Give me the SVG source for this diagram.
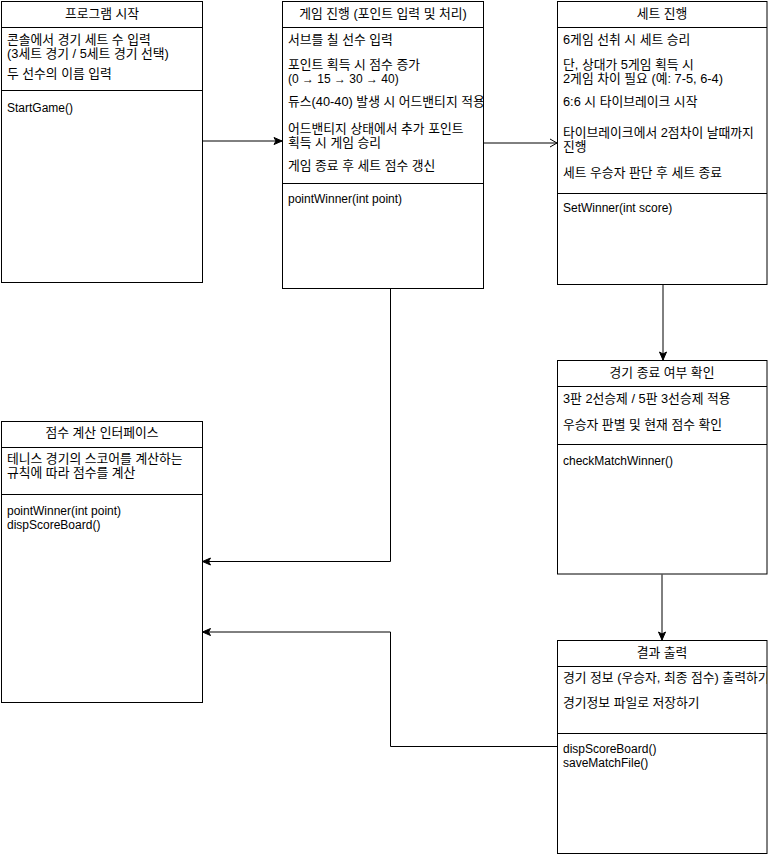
<svg xmlns="http://www.w3.org/2000/svg" width="768" height="855" viewBox="0 0 768 855">
<defs>
<style>
.box{fill:#fff;stroke:#000;stroke-width:1}
.ln{stroke:#000;stroke-width:1}
text{font-family:"Liberation Sans","Noto Sans CJK KR",sans-serif;font-size:12px;fill:#000}
.k{font-size:12.8px}
.h{text-anchor:middle}
.c{fill:none;stroke:#000;stroke-width:1}
</style>
<marker id="af" markerWidth="10" markerHeight="10" refX="9" refY="5" orient="auto" markerUnits="userSpaceOnUse">
<path d="M1,1.5 L9,5 L1,8.5 L3,5 Z" fill="#000" stroke="#000"/>
</marker>
<marker id="ao" markerWidth="10" markerHeight="10" refX="9" refY="5" orient="auto" markerUnits="userSpaceOnUse">
<path d="M2,1 L9,5 L2,9" fill="none" stroke="#000"/>
</marker>
<clipPath id="cp2"><rect x="282" y="0" width="201" height="290"/></clipPath>
<clipPath id="cp6"><rect x="557" y="640" width="210" height="215"/></clipPath>
</defs>
<rect width="768" height="855" fill="#fff"/>
<g id="connectors">
<path class="c" d="M202.5,141 L282,141" marker-end="url(#af)"/>
<path class="c" d="M483.5,143 L557,143" marker-end="url(#ao)"/>
<path class="c" d="M663,284.5 L663,360" marker-end="url(#af)"/>
<path class="c" d="M662,574.5 L662,640" marker-end="url(#af)"/>
<path class="c" d="M390.5,288.5 L390.5,561.5 L202.5,561.5" marker-end="url(#af)"/>
<path class="c" d="M557.5,746.5 L390.5,746.5 L390.5,632 L202.5,632" marker-end="url(#af)"/>
</g>
<g id="node1">
<rect class="box" x="1.5" y="1.5" width="201" height="281"/>
<line class="ln" x1="1.5" y1="27.5" x2="202.5" y2="27.5"/>
<line class="ln" x1="1.5" y1="90.5" x2="202.5" y2="90.5"/>
<text class="h k" x="102" y="18">프로그램 시작</text>
<text class="k" x="7" y="44">콘솔에서 경기 세트 수 입력</text>
<text class="k" x="7" y="58">(3세트 경기 / 5세트 경기 선택)</text>
<text class="k" x="7" y="78">두 선수의 이름 입력</text>
<text x="7" y="112">StartGame()</text>
</g>
<g id="node2">
<rect class="box" x="282.5" y="1.5" width="201" height="287"/>
<line class="ln" x1="282.5" y1="27.5" x2="483.5" y2="27.5"/>
<line class="ln" x1="282.5" y1="183.5" x2="483.5" y2="183.5"/>
<text class="h k" x="383" y="18">게임 진행 (포인트 입력 및 처리)</text>
<g clip-path="url(#cp2)">
<text class="k" x="288" y="44">서브를 칠 선수 입력</text>
<text class="k" x="288" y="69">포인트 획득 시 점수 증가</text>
<text x="288" y="83">(0 → 15 → 30 → 40)</text>
<text class="k" x="288" y="106">듀스(40-40) 발생 시 어드밴티지 적용</text>
<text class="k" x="288" y="133">어드밴티지 상태에서 추가 포인트</text>
<text class="k" x="288" y="147">획득 시 게임 승리</text>
<text class="k" x="288" y="170">게임 종료 후 세트 점수 갱신</text>
</g>
<text x="288" y="203">pointWinner(int point)</text>
</g>
<g id="node3">
<rect class="box" x="557.5" y="1.5" width="209.5" height="283"/>
<line class="ln" x1="557.5" y1="27.5" x2="767" y2="27.5"/>
<line class="ln" x1="557.5" y1="193.5" x2="767" y2="193.5"/>
<text class="h k" x="662" y="18">세트 진행</text>
<text class="k" x="563" y="44">6게임 선취 시 세트 승리</text>
<text class="k" x="563" y="69">단, 상대가 5게임 획득 시</text>
<text class="k" x="563" y="83">2게임 차이 필요 (예: 7-5, 6-4)</text>
<text class="k" x="563" y="106">6:6 시 타이브레이크 시작</text>
<text class="k" x="563" y="137">타이브레이크에서 2점차이 날때까지</text>
<text class="k" x="563" y="151">진행</text>
<text class="k" x="563" y="177">세트 우승자 판단 후 세트 종료</text>
<text x="563" y="212">SetWinner(int score)</text>
</g>
<g id="node4">
<rect class="box" x="557.5" y="360.5" width="209.5" height="213.5"/>
<line class="ln" x1="557.5" y1="386.5" x2="767" y2="386.5"/>
<line class="ln" x1="557.5" y1="444.5" x2="767" y2="444.5"/>
<text class="h k" x="662" y="377">경기 종료 여부 확인</text>
<text class="k" x="563" y="403">3판 2선승제 / 5판 3선승제 적용</text>
<text class="k" x="563" y="429">우승자 판별 및 현재 점수 확인</text>
<text x="563" y="465">checkMatchWinner()</text>
</g>
<g id="node5">
<rect class="box" x="1.5" y="421.5" width="201" height="281"/>
<line class="ln" x1="1.5" y1="447.5" x2="202.5" y2="447.5"/>
<line class="ln" x1="1.5" y1="494.5" x2="202.5" y2="494.5"/>
<text class="h k" x="102" y="437">점수 계산 인터페이스</text>
<text class="k" x="7" y="463">테니스 경기의 스코어를 계산하는</text>
<text class="k" x="7" y="477">규칙에 따라 점수를 계산</text>
<text x="7" y="515">pointWinner(int point)</text>
<text x="7" y="529">dispScoreBoard()</text>
</g>
<g id="node6">
<rect class="box" x="557.5" y="640.5" width="209.5" height="213"/>
<line class="ln" x1="557.5" y1="666.5" x2="767" y2="666.5"/>
<line class="ln" x1="557.5" y1="733.5" x2="767" y2="733.5"/>
<text class="h k" x="662" y="657">결과 출력</text>
<g clip-path="url(#cp6)">
<text class="k" x="563" y="682">경기 정보 (우승자, 최종 점수) 출력하기</text>
</g>
<text class="k" x="563" y="707">경기정보 파일로 저장하기</text>
<text x="563" y="753">dispScoreBoard()</text>
<text x="563" y="767">saveMatchFile()</text>
</g>
</svg>
